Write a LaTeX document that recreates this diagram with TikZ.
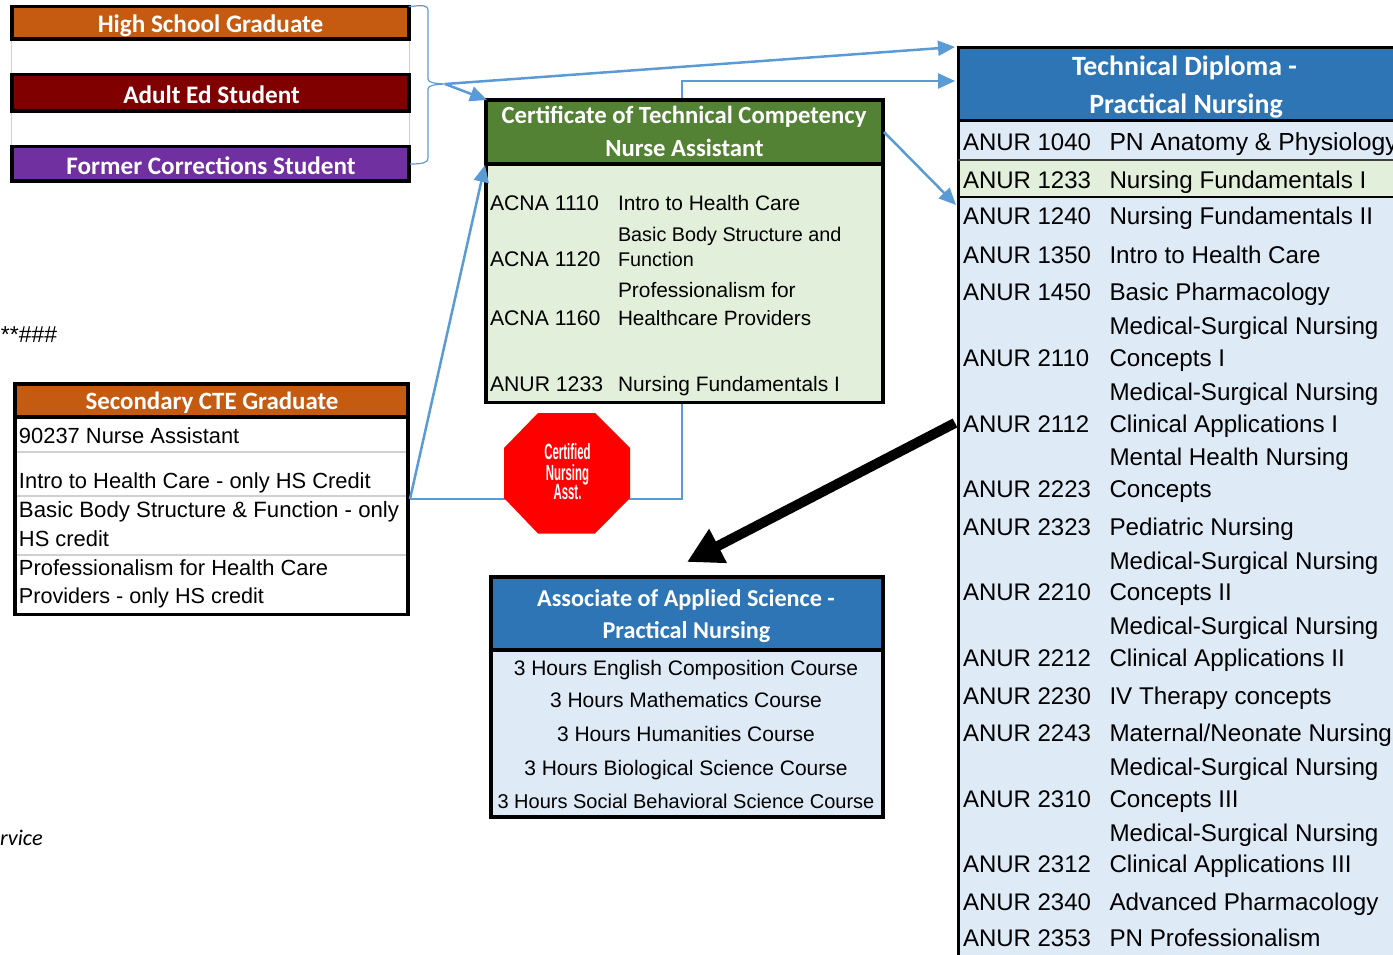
\documentclass[tikz,border=0pt]{standalone}
\usepackage{fontspec}
\usepackage{graphicx}
\setmainfont{Liberation Sans}
\newfontfamily\hdfont{Carlito}
\usetikzlibrary{arrows.meta}
\definecolor{cblue}{HTML}{5B9BD5}
\definecolor{hblue}{HTML}{2E75B6}
\definecolor{lblue}{HTML}{DEEAF6}
\definecolor{lgreen}{HTML}{E2EFDA}
\definecolor{hgreen}{HTML}{548235}
\definecolor{horange}{HTML}{C55A11}
\definecolor{hmaroon}{HTML}{800000}
\definecolor{hpurple}{HTML}{7030A0}
\definecolor{gline}{HTML}{D0D0D0}
\newcounter{tn}
\newcommand{\fsz}[1]{\fontsize{#1}{#1}\selectfont}
% \Pnl[style]{name}{x0}{y0}{x1}{y1}
\newcommand{\Pnl}[6][]{\node[panel,#1,minimum width={(#5-#3)*1pt},minimum height={(#6-#4)*1pt}] (#2) at (#3,#4) {};}
% left aligned / centred text: options, x, baseline, text
\newcommand{\TL}[4][]{\stepcounter{tn}\node[txtl,#1] (t\arabic{tn}) at (#2,#3) {#4};}
\newcommand{\TC}[4][]{\stepcounter{tn}\node[txtc,#1] (t\arabic{tn}) at (#2,#3) {#4};}
\newcommand{\Rw}[3]{\TL[codef]{963}{#1}{#2}\TL[rowf]{1109.5}{#1}{#3}}
\newcommand{\Rx}[2]{\TL[rowf]{1109.5}{#1}{#2}}
\newcommand{\Ce}[3]{\TL[cerf,font=\fsz{21.2}]{490}{#1}{#2}\TL[cerf]{618}{#1}{#3}}
\newcommand{\Cx}[2]{\TL[cerf]{618}{#1}{#2}}
\tikzset{
 panel/.style={anchor=north west,inner sep=0pt,outer sep=0pt,draw=black,line width=3.5pt,rectangle},
 txtl/.style={anchor=base west,inner sep=0pt,outer sep=0pt,text=black},
 txtc/.style={anchor=base,inner sep=0pt,outer sep=0pt},
 rowf/.style={font=\fsz{24.2}},
 codef/.style={font=\fsz{24}},
 cerf/.style={font=\fsz{20.9}},
 cers/.style={font=\fsz{19.8}},
 secf/.style={font=\fsz{21.9}},
 assf/.style={font=\fsz{21},text=black},
 headw/.style={font=\hdfont\bfseries\fsz{25.2},text=white},
 flow/.style={draw=cblue,line width=2.5pt,-{Triangle[length=17pt,width=15pt]}},
 plainflow/.style={draw=cblue,line width=2.5pt},
 brace/.style={draw=cblue,line width=1.2pt},
 divider/.style={draw=gline,line width=1.5pt},
 bigflow/.style={draw=black,line width=10pt,-{Triangle[length=35pt,width=36pt]}},
 stoptxt/.style={text=white,font=\bfseries\fsz{22}},
}
\begin{document}
\begin{tikzpicture}[x=1pt,y=-1pt]
\useasboundingbox (0,0) rectangle (1393,955);
\clip (0,0) rectangle (1393,955);
% entry boxes
\draw[divider] (11.5,41) -- (11.5,145) (409.5,41) -- (409.5,145);
\Pnl[fill=horange]{hs}{11.75}{6.75}{408.75}{39}
\Pnl[fill=hmaroon]{adult}{11.75}{74.75}{408.75}{111}
\Pnl[fill=hpurple]{corr}{11.75}{146.75}{408.75}{181}
\TC[headw]{210.5}{33}{High School Graduate}
\TC[headw]{211.5}{104}{Adult Ed Student}
\TC[headw]{211}{175}{Former Corrections Student}
% Secondary CTE
\Pnl[fill=white]{sec}{15}{384}{408}{614.5}
\Pnl[fill=horange]{sechead}{15}{384}{408}{417}
\draw[divider] (sec.west |- 0,452) -- (sec.east |- 0,452)
 (sec.west |- 0,496) -- (sec.east |- 0,496)
 (sec.west |- 0,555) -- (sec.east |- 0,555);
\draw[line width=3.5pt] (sec.north west) rectangle (sec.south east);
\TC[headw,font=\hdfont\bfseries\fsz{24.9}]{212}{409}{Secondary CTE Graduate}
\TL[secf]{19}{443}{90237 Nurse Assistant}
\TL[secf]{19}{488}{Intro to Health Care - only HS Credit}
\TL[secf,font=\fsz{22.2}]{19}{517}{Basic Body Structure \& Function - only}
\TL[secf]{19}{546}{HS credit}
\TL[secf]{19}{575}{Professionalism for Health Care}
\TL[secf,font=\fsz{21.6}]{19}{603}{Providers - only HS credit}
% stray cells
\TL[font=\fsz{23}]{1}{342}{**\#\#\#}
\TL[font=\hdfont\itshape\fsz{22.3}]{0}{845}{rvice}
% Certificate
\Pnl[fill=lgreen]{cert}{486}{100}{883}{402.5}
\Pnl[fill=hgreen]{certhead}{486}{100}{883}{164}
\TC[headw,font=\hdfont\bfseries\fsz{24.7}]{684}{124}{Certificate of Technical Competency}
\TC[headw,font=\hdfont\bfseries\fsz{24.7}]{684.5}{156.5}{Nurse Assistant}
\Ce{211}{ACNA 1110}{Intro to Health Care}
\TL[cers]{618}{241}{Basic Body Structure and}
\TL[cerf,font=\fsz{21.2}]{490}{266.5}{ACNA 1120}
\TL[cers]{618}{266.5}{Function}
\Cx{297.5}{Professionalism for}
\TL[cerf,font=\fsz{21.2}]{490}{325.5}{ACNA 1160}
\TL[cerf,font=\fsz{20.7}]{618}{325.5}{Healthcare Providers}
\Ce{391}{ANUR 1233}{Nursing Fundamentals I}
% Associate
\Pnl[fill=lblue]{aas}{491}{577}{883}{817}
\Pnl[fill=hblue]{aashead}{491}{577}{883}{650}
\TC[headw,font=\hdfont\bfseries\fsz{24.2}]{686}{606}{Associate of Applied Science -}
\TC[headw,font=\hdfont\bfseries\fsz{24.2}]{686.5}{638}{Practical Nursing}
\TC[assf]{686}{675}{3 Hours English Composition Course}
\TC[assf]{686}{707}{3 Hours Mathematics Course}
\TC[assf]{686}{741}{3 Hours Humanities Course}
\TC[assf]{686}{775}{3 Hours Biological Science Course}
\TC[assf,font=\fsz{20}]{686}{808}{3 Hours Social Behavioral Science Course}
% Technical Diploma
\Pnl[fill=lblue,line width=3pt]{td}{958}{48}{1410}{975}
\Pnl[fill=hblue,line width=3pt]{tdhead}{958}{48}{1410}{121}
\fill[lgreen] (959.5,160) rectangle (1393,197);
\draw[line width=2pt,draw=black!75] (958,160) -- (1393,160);
\draw[line width=2.5pt] (958,197) -- (1393,197);
\TC[headw,font=\hdfont\bfseries\fsz{27.9}]{1184.5}{76}{Technical Diploma -}
\TC[headw,font=\hdfont\bfseries\fsz{27.9}]{1186}{114}{Practical Nursing}
\TL[codef]{963}{150.5}{ANUR 1040}
\TL[rowf,font=\fsz{24.7}]{1109.5}{150.5}{PN Anatomy \& Physiology}
\Rw{188.5}{ANUR 1233}{Nursing Fundamentals I}
\Rw{225}{ANUR 1240}{Nursing Fundamentals II}
\Rw{263}{ANUR 1350}{Intro to Health Care}
\Rw{300}{ANUR 1450}{Basic Pharmacology}
\Rx{334}{Medical-Surgical Nursing}
\Rw{366}{ANUR 2110}{Concepts I}
\Rx{400}{Medical-Surgical Nursing}
\Rw{432}{ANUR 2112}{Clinical Applications I}
\Rx{465}{Mental Health Nursing}
\Rw{497}{ANUR 2223}{Concepts}
\Rw{535}{ANUR 2323}{Pediatric Nursing}
\Rx{569}{Medical-Surgical Nursing}
\Rw{600}{ANUR 2210}{Concepts II}
\Rx{634}{Medical-Surgical Nursing}
\Rw{666}{ANUR 2212}{Clinical Applications II}
\Rw{704}{ANUR 2230}{IV Therapy concepts}
\Rw{741}{ANUR 2243}{Maternal/Neonate Nursing}
\Rx{775}{Medical-Surgical Nursing}
\Rw{807}{ANUR 2310}{Concepts III}
\Rx{841}{Medical-Surgical Nursing}
\Rw{872}{ANUR 2312}{Clinical Applications III}
\Rw{910}{ANUR 2340}{Advanced Pharmacology}
\Rw{946}{ANUR 2353}{PN Professionalism}
% connector points
\coordinate (bracetip) at (445,84);
\coordinate (certin) at (487,100);
\coordinate (tdtop) at (955,47);
\coordinate (tdmid) at (955,81);
\coordinate (tdrow) at (956,205);
\coordinate (certup) at (682,98);
\coordinate (certr) at (884,132);
\coordinate (certl) at (485,165);
\coordinate (secr) at (410,499);
\coordinate (certdown) at (682,404);
\coordinate (bigstart) at (955,423);
\coordinate (bigend) at (687,562);
% brace
\draw[brace] (hs.north east) .. controls (422,5) and (428,5) .. (428,10) -- (428,79)
  .. controls (428,83) and (436,83.5) .. (bracetip)
  .. controls (436,84.5) and (428,85) .. (428,89) -- (428,158)
  .. controls (428,163) and (422,164) .. (410,164);
% stop sign connector, under the sign
\draw[plainflow] (secr) -- (certdown |- secr) -- (certdown);
% stop sign
\fill[red] (538,413) -- (595,413) -- (630,448) -- (630,498) -- (595,533.5) -- (538,533.5) -- (504,498) -- (504,448) -- cycle;
\TC[stoptxt]{567.5}{459}{\scalebox{0.52}[1]{Certified}}
\TC[stoptxt]{567.5}{480}{\scalebox{0.52}[1]{Nursing}}
\TC[stoptxt]{567.5}{499}{\scalebox{0.52}[1]{Asst.}}
% arrows
\draw[flow] (bracetip) -- (tdtop);
\draw[flow] (bracetip) -- (certin);
\draw[flow] (certup) |- (tdmid);
\draw[flow] (certr) -- (tdrow);
\draw[flow] (secr) -- (certl);
\draw[bigflow] (bigstart) -- (bigend);
\end{tikzpicture}
\end{document}
